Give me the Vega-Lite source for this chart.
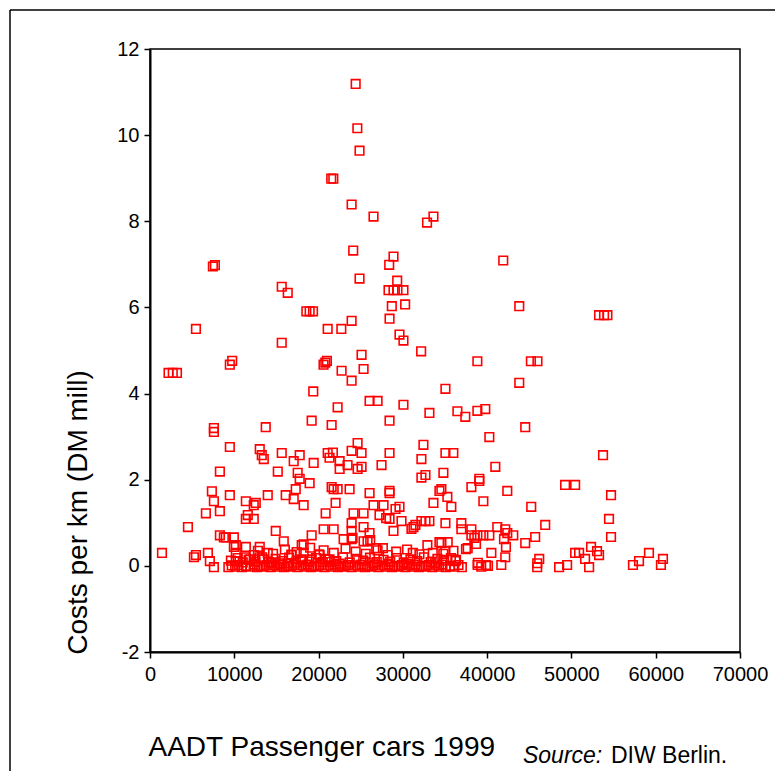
{
  "$schema": "https://vega.github.io/schema/vega-lite/v6.json",
  "width": 590,
  "height": 603,
  "autosize": {"type": "none"},
  "padding": {"left": 150, "top": 49, "right": 35, "bottom": 119},
  "background": "white",
  "config": {
    "view": {"stroke": "black", "strokeWidth": 1.5},
    "axis": {
      "grid": false,
      "domainColor": "black",
      "domainWidth": 2,
      "tickColor": "black",
      "tickWidth": 1.5,
      "tickSize": 6,
      "labelFont": "Liberation Sans",
      "labelFontSize": 20,
      "labelColor": "black",
      "titleFont": "Liberation Sans",
      "titleFontWeight": "normal",
      "titleColor": "black"
    }
  },
  "datasets": {
    "pts": [
      {"aadt":24400,"cost":11.19},{"aadt":24600,"cost":10.16},{"aadt":24860,"cost":9.64},{"aadt":21500,"cost":8.99},{"aadt":21750,"cost":8.99},{"aadt":23920,"cost":8.39},{"aadt":26520,"cost":8.11},{"aadt":33630,"cost":8.11},{"aadt":32870,"cost":7.97},{"aadt":24110,"cost":7.32},{"aadt":28890,"cost":7.18},{"aadt":28380,"cost":6.99},{"aadt":7700,"cost":6.98},{"aadt":7460,"cost":6.95},{"aadt":24860,"cost":6.67},{"aadt":29330,"cost":6.62},{"aadt":28300,"cost":6.4},{"aadt":28890,"cost":6.4},{"aadt":29360,"cost":6.4},{"aadt":30070,"cost":6.4},{"aadt":15630,"cost":6.48},{"aadt":16340,"cost":6.34},{"aadt":28690,"cost":6.03},{"aadt":30270,"cost":6.07},{"aadt":18550,"cost":5.91},{"aadt":18940,"cost":5.91},{"aadt":19340,"cost":5.91},{"aadt":41910,"cost":7.09},{"aadt":43810,"cost":6.03},{"aadt":53280,"cost":5.82},{"aadt":53870,"cost":5.82},{"aadt":54270,"cost":5.82},{"aadt":5450,"cost":5.5},{"aadt":21080,"cost":5.5},{"aadt":22700,"cost":5.5},{"aadt":23920,"cost":5.69},{"aadt":28420,"cost":5.74},{"aadt":29600,"cost":5.37},{"aadt":30070,"cost":5.23},{"aadt":32170,"cost":4.98},{"aadt":15630,"cost":5.18},{"aadt":9750,"cost":4.76},{"aadt":9470,"cost":4.67},{"aadt":2200,"cost":4.48},{"aadt":2700,"cost":4.48},{"aadt":3200,"cost":4.48},{"aadt":20990,"cost":4.76},{"aadt":20590,"cost":4.67},{"aadt":20800,"cost":4.72},{"aadt":25100,"cost":4.9},{"aadt":25340,"cost":4.57},{"aadt":22730,"cost":4.53},{"aadt":23920,"cost":4.3},{"aadt":19370,"cost":4.05},{"aadt":22260,"cost":3.68},{"aadt":26050,"cost":3.83},{"aadt":27000,"cost":3.83},{"aadt":30070,"cost":3.74},{"aadt":33150,"cost":3.55},{"aadt":19180,"cost":3.37},{"aadt":21550,"cost":3.27},{"aadt":28420,"cost":3.37},{"aadt":13730,"cost":3.22},{"aadt":7580,"cost":3.2},{"aadt":7580,"cost":3.11},{"aadt":38840,"cost":4.75},{"aadt":45190,"cost":4.75},{"aadt":45970,"cost":4.75},{"aadt":43810,"cost":4.25},{"aadt":35050,"cost":4.11},{"aadt":36470,"cost":3.59},{"aadt":37410,"cost":3.46},{"aadt":38840,"cost":3.6},{"aadt":39780,"cost":3.64},{"aadt":44520,"cost":3.22},{"aadt":40260,"cost":2.99},{"aadt":35050,"cost":2.62},{"aadt":35990,"cost":2.62},{"aadt":53750,"cost":2.57},{"aadt":40970,"cost":2.3},{"aadt":34810,"cost":2.16},{"aadt":39070,"cost":2.02},
      {"aadt":9470,"cost":2.76},{"aadt":13020,"cost":2.71},{"aadt":13260,"cost":2.57},{"aadt":13500,"cost":2.48},{"aadt":15630,"cost":2.62},{"aadt":17760,"cost":2.57},{"aadt":17050,"cost":2.43},{"aadt":19420,"cost":2.39},{"aadt":21080,"cost":2.62},{"aadt":21700,"cost":2.63},{"aadt":21300,"cost":2.51},{"aadt":22500,"cost":2.43},{"aadt":23920,"cost":2.67},{"aadt":24630,"cost":2.85},{"aadt":25100,"cost":2.62},{"aadt":23440,"cost":2.34},{"aadt":22500,"cost":2.25},{"aadt":24630,"cost":2.25},{"aadt":25100,"cost":2.3},{"aadt":27470,"cost":2.34},{"aadt":28420,"cost":2.62},{"aadt":32440,"cost":2.81},{"aadt":32200,"cost":2.48},{"aadt":8290,"cost":2.19},{"aadt":15160,"cost":2.19},{"aadt":17520,"cost":2.16},{"aadt":32680,"cost":2.11},{"aadt":32200,"cost":2.05},
      {"aadt":17760,"cost":2.02},{"aadt":18940,"cost":1.92},{"aadt":21550,"cost":1.83},{"aadt":21790,"cost":1.78},{"aadt":7340,"cost":1.73},{"aadt":9470,"cost":1.64},{"aadt":11370,"cost":1.5},{"aadt":13970,"cost":1.64},{"aadt":16100,"cost":1.64},{"aadt":17290,"cost":1.78},{"aadt":17050,"cost":1.55},{"aadt":18230,"cost":1.41},{"aadt":7580,"cost":1.5},{"aadt":12310,"cost":1.41},{"aadt":12550,"cost":1.46},{"aadt":8290,"cost":1.27},{"aadt":6630,"cost":1.22},{"aadt":11600,"cost":1.18},{"aadt":11370,"cost":1.09},{"aadt":12310,"cost":1.09},{"aadt":20840,"cost":1.22},{"aadt":22020,"cost":1.46},{"aadt":22260,"cost":1.78},{"aadt":23680,"cost":1.78},{"aadt":26050,"cost":1.69},{"aadt":28420,"cost":1.74},{"aadt":28420,"cost":1.69},{"aadt":34340,"cost":1.74},{"aadt":34570,"cost":1.78},{"aadt":35280,"cost":1.6},{"aadt":38130,"cost":1.83},{"aadt":39070,"cost":1.97},{"aadt":42390,"cost":1.74},{"aadt":39550,"cost":1.5},{"aadt":33630,"cost":1.46},{"aadt":35750,"cost":1.37},{"aadt":24150,"cost":1.22},{"aadt":25340,"cost":1.22},{"aadt":26520,"cost":1.41},{"aadt":27710,"cost":1.41},{"aadt":27230,"cost":1.18},{"aadt":28420,"cost":1.09},{"aadt":29130,"cost":1.32},{"aadt":29600,"cost":1.37},{"aadt":49250,"cost":1.88},{"aadt":50440,"cost":1.88},{"aadt":54700,"cost":1.64},{"aadt":45230,"cost":1.37},{"aadt":54460,"cost":1.09},{"aadt":29840,"cost":1.04},{"aadt":32200,"cost":1.04},{"aadt":32680,"cost":1.04},{"aadt":33150,"cost":1.04},{"aadt":35050,"cost":0.99},{"aadt":36940,"cost":0.99},{"aadt":23920,"cost":0.99},{"aadt":28020,"cost":1.11},
      {"aadt":4500,"cost":0.9},{"aadt":14920,"cost":0.81},{"aadt":15870,"cost":0.57},{"aadt":19180,"cost":0.71},{"aadt":20600,"cost":0.85},{"aadt":21790,"cost":0.85},{"aadt":8290,"cost":0.71},{"aadt":8760,"cost":0.66},{"aadt":9000,"cost":0.66},{"aadt":9950,"cost":0.66},{"aadt":10180,"cost":0.48},{"aadt":9950,"cost":0.44},{"aadt":11370,"cost":0.44},{"aadt":13020,"cost":0.44},{"aadt":23920,"cost":0.81},{"aadt":25340,"cost":0.9},{"aadt":26050,"cost":0.76},{"aadt":28890,"cost":0.81},{"aadt":31020,"cost":0.86},{"aadt":31260,"cost":0.9},{"aadt":31490,"cost":0.95},{"aadt":36940,"cost":0.85},{"aadt":38130,"cost":0.85},{"aadt":38130,"cost":0.71},{"aadt":38840,"cost":0.71},{"aadt":39550,"cost":0.71},{"aadt":40260,"cost":0.71},{"aadt":41200,"cost":0.9},{"aadt":42150,"cost":0.85},{"aadt":42390,"cost":0.76},{"aadt":43100,"cost":0.71},{"aadt":44520,"cost":0.53},{"aadt":42000,"cost":0.62},{"aadt":42230,"cost":0.44},{"aadt":37490,"cost":0.39},{"aadt":40500,"cost":0.3},{"aadt":22970,"cost":0.62},{"aadt":23920,"cost":0.62},{"aadt":25340,"cost":0.57},{"aadt":25810,"cost":0.57},{"aadt":32910,"cost":0.48},{"aadt":34570,"cost":0.53},{"aadt":35050,"cost":0.34},{"aadt":46890,"cost":0.95},{"aadt":45700,"cost":0.67},{"aadt":54700,"cost":0.67},{"aadt":18000,"cost":0.48},{"aadt":18230,"cost":0.5},{"aadt":38480,"cost":0.65},{"aadt":38680,"cost":0.51},{"aadt":34340,"cost":0.55},{"aadt":35320,"cost":0.55},{"aadt":26840,"cost":0.41},{"aadt":27630,"cost":0.41},{"aadt":37690,"cost":0.41},{"aadt":24030,"cost":0.65},{"aadt":26130,"cost":0.6},
      {"aadt":1420,"cost":0.3},{"aadt":5210,"cost":0.2},{"aadt":5450,"cost":0.25},{"aadt":6870,"cost":0.3},{"aadt":7100,"cost":0.11},{"aadt":7580,"cost":-0.03},{"aadt":10180,"cost":0.3},{"aadt":11370,"cost":0.2},{"aadt":10180,"cost":0.11},{"aadt":11840,"cost":0.15},{"aadt":12310,"cost":0.25},{"aadt":13970,"cost":0.3},{"aadt":16810,"cost":0.25},{"aadt":18230,"cost":0.3},{"aadt":18000,"cost":0.15},{"aadt":19180,"cost":0.15},{"aadt":20130,"cost":0.25},{"aadt":20840,"cost":0.15},{"aadt":21310,"cost":0.09},{"aadt":13000,"cost":0.2},{"aadt":13500,"cost":0.15},{"aadt":41680,"cost":0.02},{"aadt":38900,"cost":0.07},{"aadt":39850,"cost":0.02},{"aadt":42150,"cost":0.2},{"aadt":36230,"cost":0.11},{"aadt":52330,"cost":0.44},{"aadt":53040,"cost":0.34},{"aadt":53280,"cost":0.25},{"aadt":50440,"cost":0.3},{"aadt":50910,"cost":0.3},{"aadt":51620,"cost":0.16},{"aadt":46180,"cost":0.16},{"aadt":45940,"cost":0.06},{"aadt":45940,"cost":-0.03},{"aadt":49490,"cost":0.02},{"aadt":48540,"cost":-0.03},{"aadt":52100,"cost":-0.03},{"aadt":57300,"cost":0.02},{"aadt":58020,"cost":0.11},{"aadt":59200,"cost":0.3},{"aadt":60620,"cost":0.02},{"aadt":60860,"cost":0.16},{"aadt":29210,"cost":0.33},{"aadt":31180,"cost":0.3},{"aadt":31970,"cost":0.27},{"aadt":33550,"cost":0.3},{"aadt":36310,"cost":0.14},{"aadt":38870,"cost":0.02},{"aadt":16770,"cost":0.26},{"aadt":20050,"cost":0.27},
      {"aadt":12800,"cost":0.35},{"aadt":14600,"cost":0.28},{"aadt":16000,"cost":0.38},{"aadt":17400,"cost":0.32},{"aadt":19000,"cost":0.42},{"aadt":20600,"cost":0.36},{"aadt":21800,"cost":0.3},{"aadt":23200,"cost":0.4},{"aadt":24400,"cost":0.33},{"aadt":25600,"cost":0.28},{"aadt":27000,"cost":0.36},{"aadt":28200,"cost":0.25},{"aadt":30500,"cost":0.38},{"aadt":34800,"cost":0.28},{"aadt":36000,"cost":0.35},
      {"aadt":9300,"cost":-0.03},{"aadt":9700,"cost":0.01},{"aadt":10100,"cost":-0.02},{"aadt":10500,"cost":0.02},{"aadt":10900,"cost":-0.03},{"aadt":11400,"cost":0.0},{"aadt":11900,"cost":-0.02},{"aadt":12300,"cost":0.03},{"aadt":12700,"cost":-0.03},{"aadt":13100,"cost":0.0},{"aadt":13500,"cost":-0.02},{"aadt":13900,"cost":0.02},{"aadt":14300,"cost":-0.03},{"aadt":14700,"cost":0.01},{"aadt":15100,"cost":-0.02},{"aadt":15500,"cost":0.03},{"aadt":15900,"cost":-0.03},{"aadt":16300,"cost":0.0},{"aadt":16700,"cost":-0.02},{"aadt":17100,"cost":0.02},{"aadt":17500,"cost":-0.03},{"aadt":17900,"cost":0.01},{"aadt":18300,"cost":-0.02},{"aadt":18700,"cost":0.03},{"aadt":19100,"cost":-0.03},{"aadt":19500,"cost":0.0},{"aadt":19900,"cost":-0.02},{"aadt":20300,"cost":0.02},{"aadt":20700,"cost":-0.03},{"aadt":21100,"cost":0.01},{"aadt":21500,"cost":-0.02},{"aadt":21900,"cost":0.03},{"aadt":22300,"cost":-0.03},{"aadt":22700,"cost":0.0},{"aadt":23100,"cost":-0.02},{"aadt":23500,"cost":0.02},{"aadt":23900,"cost":-0.03},{"aadt":24300,"cost":0.01},{"aadt":24700,"cost":-0.02},{"aadt":25100,"cost":0.03},{"aadt":25500,"cost":-0.03},{"aadt":25900,"cost":0.0},{"aadt":26300,"cost":-0.02},{"aadt":26700,"cost":0.02},{"aadt":27100,"cost":-0.03},{"aadt":27500,"cost":0.01},{"aadt":27900,"cost":-0.02},{"aadt":28300,"cost":0.03},{"aadt":28700,"cost":-0.03},{"aadt":29100,"cost":0.0},{"aadt":29500,"cost":-0.02},{"aadt":29900,"cost":0.02},{"aadt":30300,"cost":-0.03},{"aadt":30700,"cost":0.01},{"aadt":31100,"cost":-0.02},{"aadt":31500,"cost":0.03},{"aadt":31900,"cost":-0.03},{"aadt":32300,"cost":0.0},{"aadt":32700,"cost":-0.02},{"aadt":33100,"cost":0.02},{"aadt":33500,"cost":-0.03},{"aadt":33900,"cost":0.01},{"aadt":34300,"cost":-0.02},{"aadt":34700,"cost":0.03},{"aadt":35100,"cost":-0.03},{"aadt":35600,"cost":0.0},{"aadt":36100,"cost":-0.02},{"aadt":36600,"cost":0.02},{"aadt":37000,"cost":-0.03},{"aadt":39300,"cost":-0.02},{"aadt":40100,"cost":0.0},
      {"aadt":9600,"cost":0.12},{"aadt":10400,"cost":0.18},{"aadt":11000,"cost":0.08},{"aadt":11700,"cost":0.14},{"aadt":12500,"cost":0.1},{"aadt":13300,"cost":0.2},{"aadt":14100,"cost":0.09},{"aadt":14900,"cost":0.16},{"aadt":15700,"cost":0.11},{"aadt":16500,"cost":0.19},{"aadt":17300,"cost":0.08},{"aadt":18100,"cost":0.13},{"aadt":18900,"cost":0.1},{"aadt":19700,"cost":0.18},{"aadt":20500,"cost":0.09},{"aadt":21300,"cost":0.15},{"aadt":22100,"cost":0.11},{"aadt":22900,"cost":0.2},{"aadt":23700,"cost":0.08},{"aadt":24500,"cost":0.16},{"aadt":25300,"cost":0.12},{"aadt":26100,"cost":0.19},{"aadt":26900,"cost":0.09},{"aadt":27700,"cost":0.14},{"aadt":28500,"cost":0.1},{"aadt":29300,"cost":0.18},{"aadt":30100,"cost":0.08},{"aadt":30900,"cost":0.15},{"aadt":31700,"cost":0.11},{"aadt":32500,"cost":0.2},{"aadt":33300,"cost":0.09},{"aadt":34100,"cost":0.16},{"aadt":34900,"cost":0.12},{"aadt":35700,"cost":0.18},
      {"aadt":14400,"cost":0.06},{"aadt":15300,"cost":0.06},{"aadt":16400,"cost":0.06},{"aadt":22500,"cost":0.05},{"aadt":26500,"cost":0.06},{"aadt":30500,"cost":0.05},{"aadt":33800,"cost":0.06}
    ]
  },
  "layer": [
    {
      "data": {"name": "pts"},
      "mark": {"type": "point", "shape": "square", "filled": false, "stroke": "#ff0000", "strokeWidth": 1.6, "size": 74, "opacity": 1},
      "encoding": {
        "x": {
          "field": "aadt", "type": "quantitative",
          "scale": {"domain": [0, 70000], "nice": false, "zero": false},
          "axis": {
            "values": [0, 10000, 20000, 30000, 40000, 50000, 60000, 70000],
            "labelExpr": "'' + datum.value",
            "labelPadding": 6,
            "labelFlush": false,
            "title": "AADT Passenger cars 1999",
            "titleFontSize": 28,
            "titleX": -2,
            "titleY": 103,
            "titleAlign": "left",
            "titleBaseline": "alphabetic"
          }
        },
        "y": {
          "field": "cost", "type": "quantitative",
          "scale": {"domain": [-2, 12], "nice": false, "zero": false},
          "axis": {
            "values": [-2, 0, 2, 4, 6, 8, 10, 12],
            "labelExpr": "'' + datum.value",
            "labelPadding": 5,
            "labelFlush": false,
            "title": "Costs per km (DM mill)",
            "titleFontSize": 28,
            "titleAngle": -90,
            "titleX": -64,
            "titleY": 463,
            "titleAlign": "center",
            "titleBaseline": "alphabetic"
          }
        }
      }
    },
    {
      "data": {"values": [{}]},
      "mark": {"type": "rule", "color": "black", "strokeWidth": 1.5},
      "encoding": {
        "x": {"datum": -16610, "type": "quantitative", "scale": {"domain": [0, 70000], "nice": false, "zero": false}, "title": "AADT Passenger cars 1999"},
        "y": {"datum": 12.906, "type": "quantitative", "scale": {"domain": [-2, 12], "nice": false, "zero": false}, "title": "Costs per km (DM mill)"},
        "y2": {"datum": -6}
      }
    },
    {
      "data": {"values": [{}]},
      "mark": {"type": "rule", "color": "black", "strokeWidth": 1.5},
      "encoding": {
        "x": {"datum": -16610, "type": "quantitative", "scale": {"domain": [0, 70000], "nice": false, "zero": false}, "title": "AADT Passenger cars 1999"},
        "x2": {"datum": 80000},
        "y": {"datum": 12.906, "type": "quantitative", "scale": {"domain": [-2, 12], "nice": false, "zero": false}, "title": "Costs per km (DM mill)"}
      }
    },
    {
      "data": {"values": [{}]},
      "mark": {"type": "text", "text": "Source:", "font": "Liberation Sans", "fontSize": 23, "fontStyle": "italic", "align": "left", "baseline": "alphabetic", "color": "black"},
      "encoding": {
        "x": {"datum": 44250, "type": "quantitative", "scale": {"domain": [0, 70000], "nice": false, "zero": false}, "title": "AADT Passenger cars 1999"},
        "y": {"datum": -4.577, "type": "quantitative", "scale": {"domain": [-2, 12], "nice": false, "zero": false}, "title": "Costs per km (DM mill)"}
      }
    },
    {
      "data": {"values": [{}]},
      "mark": {"type": "text", "text": "DIW Berlin.", "font": "Liberation Sans", "fontSize": 23, "align": "left", "baseline": "alphabetic", "color": "black"},
      "encoding": {
        "x": {"datum": 54690, "type": "quantitative", "scale": {"domain": [0, 70000], "nice": false, "zero": false}, "title": "AADT Passenger cars 1999"},
        "y": {"datum": -4.577, "type": "quantitative", "scale": {"domain": [-2, 12], "nice": false, "zero": false}, "title": "Costs per km (DM mill)"}
      }
    }
  ]
}
